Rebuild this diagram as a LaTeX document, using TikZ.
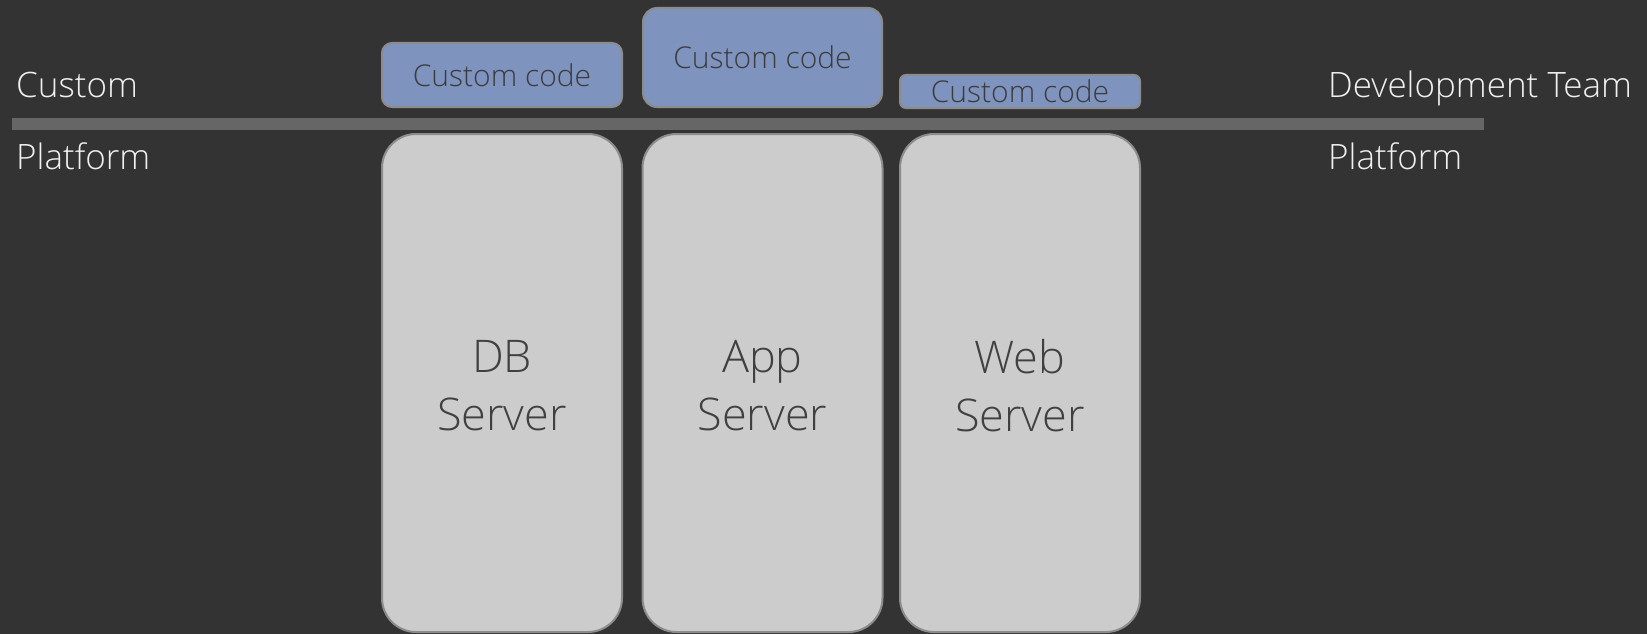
\documentclass[tikz,border=0pt]{standalone}
\usepackage{fontspec}
\setmainfont{Open Sans Light}
\begin{document}
\begin{tikzpicture}[x=1pt,y=-1pt,
  sidelabel/.style={anchor=base west,inner sep=0pt,text=labelwhite,
    font=\fontsize{35}{42}\selectfont},
  server/.style={draw=edgegray,line width=2pt,fill=serverfill,
    rounded corners=34pt,inner sep=0pt,text=servertext,align=center,
    font=\fontsize{45}{58}\selectfont},
  codebox/.style={draw=edgegray,line width=2pt,fill=codefill,inner sep=0pt,
    text=codetext,font=\fontsize{30}{36}\selectfont}]
\definecolor{bg}{HTML}{333333}
\definecolor{barcol}{HTML}{666666}
\definecolor{labelwhite}{HTML}{F0F0F0}
\definecolor{edgegray}{HTML}{8C8C8C}
\definecolor{serverfill}{HTML}{CCCCCC}
\definecolor{servertext}{HTML}{404040}
\definecolor{codefill}{HTML}{7F93BF}
\definecolor{codetext}{HTML}{3C3C3C}

% canvas
\fill[bg] (0,0) rectangle (1647,634);
\useasboundingbox (0,0) rectangle (1647,634);

% divider between custom code and platform
\fill[barcol] (12,118) rectangle (1484,130);

% side labels
\node[sidelabel] (custL) at (16,97) {Custom};
\node[sidelabel] (platL) at (16,169) {Platform};
\node[sidelabel] (devR) at (1328,97) {Development Team};
\node[sidelabel] (platR) at (1328,169) {Platform};

% platform servers
\node[server,minimum width=240pt,minimum height=498pt] (db) at (502,383) {};
\node[server,minimum width=240pt,minimum height=498pt] (app) at (762.5,383) {};
\node[server,minimum width=240pt,minimum height=498pt] (web) at (1020,383) {};
\node[server,draw=none,fill=none] (dbt) at ([yshift=-3pt]db.center) {DB\\Server};
\node[server,draw=none,fill=none] (appt) at ([yshift=-3pt]app.center) {App\\Server};
\node[server,draw=none,fill=none] (webt) at ([yshift=-3pt]web.center) {Web\\Server};

% custom code on top of each server
\node[codebox,rounded corners=10pt,minimum width=240pt,minimum height=64pt] (c1) at (502,75) {Custom code};
\node[codebox,rounded corners=14pt,minimum width=239pt,minimum height=99pt] (c2) at (762.5,57.5) {Custom code};
\node[codebox,rounded corners=6pt,minimum width=240pt,minimum height=33pt] (c3) at (1020,91.5) {Custom code};
\end{tikzpicture}
\end{document}
